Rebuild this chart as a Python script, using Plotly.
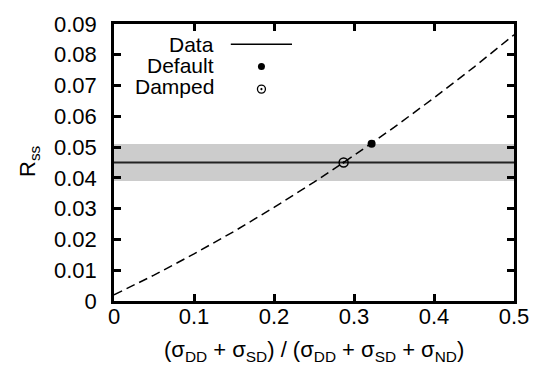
import plotly.graph_objects as go

# Model curve: R_ss versus the diffractive cross-section fraction
frac = [0.0, 0.05, 0.10, 0.15, 0.20, 0.25, 0.30, 0.35, 0.40, 0.45, 0.50]
rss_model = [0.0020, 0.0084, 0.0153, 0.0226, 0.0304, 0.0386, 0.0473, 0.0564, 0.0660, 0.0760, 0.0865]

# Measured value and its uncertainty band
rss_data = 0.045
rss_err = 0.006

# Tuned points
default_pt = (0.322, 0.0511)
damped_pt = (0.287, 0.045)

x_ticks = [0, 0.1, 0.2, 0.3, 0.4, 0.5]
x_ticklabels = ["0", "0.1", "0.2", "0.3", "0.4", "0.5"]
y_ticks = [0, 0.01, 0.02, 0.03, 0.04, 0.05, 0.06, 0.07, 0.08, 0.09]
y_ticklabels = ["0", "0.01", "0.02", "0.03", "0.04", "0.05", "0.06", "0.07", "0.08", "0.09"]

legend_labels = ["Data", "Default", "Damped"]

FONT = "Liberation Sans, Arial, Helvetica, sans-serif"
FS = 22
KEY_FS = 21

fig = go.Figure()

# uncertainty band
fig.add_trace(go.Scatter(
    x=[x_ticks[0], x_ticks[-1], x_ticks[-1], x_ticks[0]],
    y=[rss_data - rss_err, rss_data - rss_err, rss_data + rss_err, rss_data + rss_err],
    fill="toself", fillcolor="#cccccc", line=dict(width=0), mode="lines",
    hoverinfo="skip", showlegend=False))

# measured value
fig.add_trace(go.Scatter(
    x=[x_ticks[0], x_ticks[-1]], y=[rss_data, rss_data], mode="lines",
    line=dict(color="#222222", width=2), showlegend=False))

# model curve
fig.add_trace(go.Scatter(
    x=frac, y=rss_model, mode="lines",
    line=dict(color="black", width=1.5, dash="9px,5px"), showlegend=False))

# default point
fig.add_trace(go.Scatter(
    x=[default_pt[0]], y=[default_pt[1]], mode="markers",
    marker=dict(symbol="circle", size=8, color="black"), showlegend=False))

# damped point
fig.add_trace(go.Scatter(
    x=[damped_pt[0]], y=[damped_pt[1]], mode="markers",
    marker=dict(symbol="circle-open-dot", size=9, color="black", line=dict(width=1.5)),
    showlegend=False))

# key samples drawn on an overlay axis spanning the plot area (0..1)
key_y = [0.925, 0.851, 0.775]
fig.add_trace(go.Scatter(
    x=[0.292, 0.445], y=[key_y[0] + 0.002] * 2, mode="lines",
    line=dict(color="black", width=1.5), xaxis="x2", yaxis="y2", showlegend=False))
fig.add_trace(go.Scatter(
    x=[0.3686], y=[key_y[1] - 0.004], mode="markers",
    marker=dict(symbol="circle", size=7, color="black"),
    xaxis="x2", yaxis="y2", showlegend=False))
fig.add_trace(go.Scatter(
    x=[0.3686], y=[key_y[2] - 0.01], mode="markers",
    marker=dict(symbol="circle-open-dot", size=8, color="black", line=dict(width=1.3)),
    xaxis="x2", yaxis="y2", showlegend=False))

annotations = []
for lab, yy in zip(legend_labels, key_y):
    annotations.append(dict(
        text=lab, x=0.2555, y=yy, xref="paper", yref="paper",
        xanchor="right", yanchor="middle", showarrow=False,
        font=dict(family=FONT, size=KEY_FS, color="black")))

annotations.append(dict(
    text="(σ<sub>DD</sub> + σ<sub>SD</sub>) / (σ<sub>DD</sub> + σ<sub>SD</sub> + σ<sub>ND</sub>)",
    x=0.499, y=-0.18, xref="paper", yref="paper", xanchor="center", yanchor="middle",
    showarrow=False, font=dict(family=FONT, size=FS, color="black")))
annotations.append(dict(
    text="R<sub>ss</sub>", x=-0.211, y=0.504, xref="paper", yref="paper",
    xanchor="center", yanchor="middle", textangle=-90, showarrow=False,
    font=dict(family=FONT, size=FS, color="black")))

axis_common = dict(
    showline=True, linecolor="black", linewidth=2.5, mirror="allticks",
    ticks="inside", ticklen=7, tickwidth=2.5, tickcolor="black",
    showgrid=False, zeroline=False,
    tickfont=dict(family=FONT, size=FS, color="black"),
)

fig.update_layout(
    width=541, height=369,
    margin=dict(l=114, r=20, t=17, b=68),
    paper_bgcolor="white", plot_bgcolor="white",
    showlegend=False,
    xaxis=dict(range=[0, 0.5], tickvals=x_ticks, ticktext=x_ticklabels,
               ticklabelstandoff=-6, **axis_common),
    yaxis=dict(range=[0, 0.09], tickvals=y_ticks, ticktext=y_ticklabels,
               ticklabelstandoff=10, **axis_common),
    xaxis2=dict(range=[0, 1], overlaying="x", visible=False),
    yaxis2=dict(range=[0, 1], overlaying="y", visible=False),
    annotations=annotations,
)

fig.write_html("out.html")
